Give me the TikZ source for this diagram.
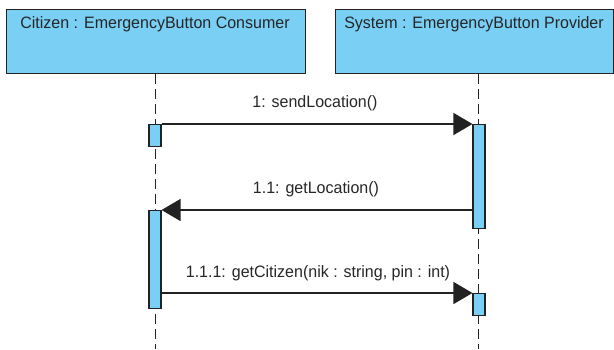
\documentclass[tikz,border=0pt]{standalone}
\usepackage{fontspec}
\setmainfont{Liberation Sans}[FakeStretch=0.97]
\usetikzlibrary{arrows.meta}
\definecolor{lifefill}{HTML}{7ACFF5}
\definecolor{edge}{HTML}{222222}
\definecolor{ink}{HTML}{262626}
\tikzset{
  participant/.style={draw=edge, line width=1.3pt, fill=lifefill, rectangle,
    inner sep=0pt, anchor=north west},
  actbar/.style={draw=edge, line width=1.1pt, fill=lifefill, rectangle,
    inner sep=0pt, minimum width=12pt, anchor=north},
  lifeline/.style={draw=edge, line width=1pt, dash pattern=on 10pt off 5pt},
  msg/.style={draw=edge, line width=1.3pt,
    -{Triangle[length=19pt,width=22pt]}},
  label/.style={text=ink, font=\fontsize{16.5}{19}\selectfont, inner sep=0pt, anchor=base}
}
\begin{document}
\begin{tikzpicture}[x=1pt,y=-1pt]
\useasboundingbox (0,0) rectangle (614,349);

% participants
\node[participant, minimum width=299pt, minimum height=64pt] (p1) at (6,9) {};
\node[participant, minimum width=278pt, minimum height=64pt] (p2) at (335,9) {};
\node[label] (t1) at (155,28) {Citizen : EmergencyButton Consumer};
\node[label] (t2) at (474,28) {System : EmergencyButton Provider};

% lifeline ends
\coordinate (e1) at (155,349);
\coordinate (e2) at (478,349);
\draw[lifeline] (p1.south -| e1) -- (e1);
\draw[lifeline] (p2.south -| e2) -- (e2);

% activation bars
\node[actbar, minimum height=22pt] (a1) at (155,124) {};
\node[actbar, minimum height=104pt] (a2) at (479,124) {};
\node[actbar, minimum height=98pt] (a3) at (155,210) {};
\node[actbar, minimum height=22pt] (a4) at (479,293) {};

% messages
\draw[msg] (a1.north east) -- (a2.north west);
\draw[msg] (a2.west |- a3.north) -- (a3.north east);
\draw[msg] (a3.east |- a4.north) -- (a4.north west);

\node[label] (m1) at (315,107) {1: sendLocation()};
\node[label] (m2) at (316,193) {1.1: getLocation()};
\node[label] (m3) at (318,277) {1.1.1: getCitizen(nik : string, pin : int)};
\end{tikzpicture}
\end{document}
